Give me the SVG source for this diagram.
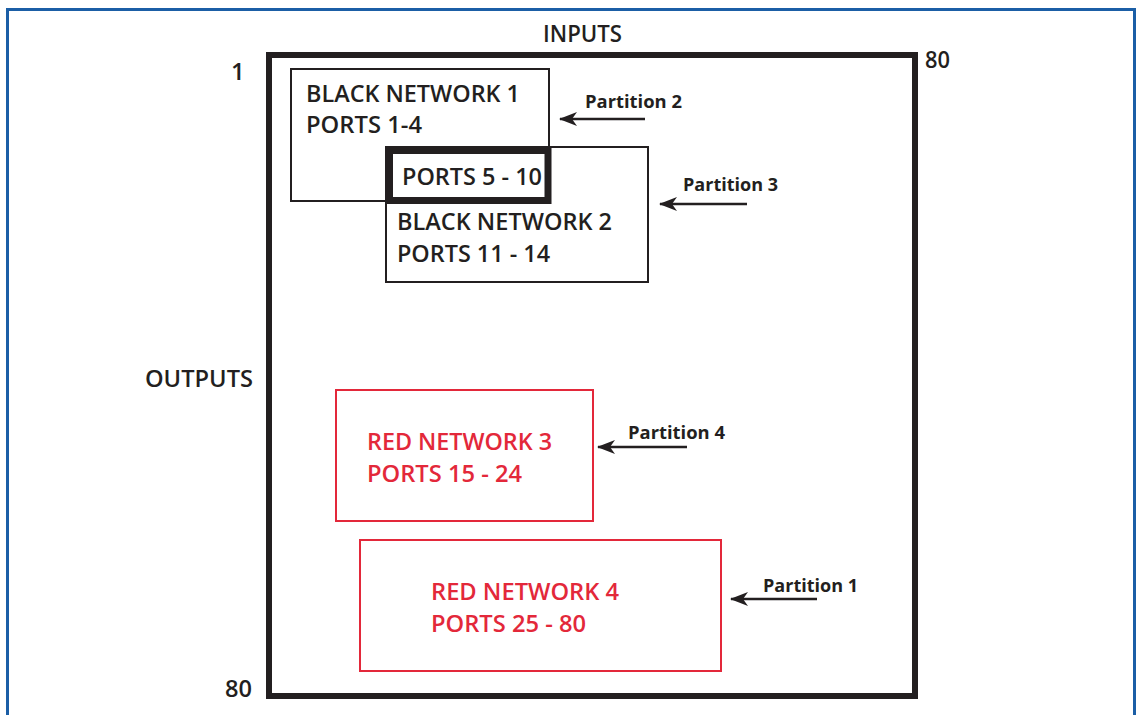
<svg xmlns="http://www.w3.org/2000/svg" width="1143" height="715" viewBox="0 0 1143 715">
<defs>
<style>
.lbl{font-family:"Open Sans","Liberation Sans",sans-serif;font-weight:600;font-size:24px;fill:#231f20}
.red{fill:#e3283a}
.part{font-family:"Open Sans","Liberation Sans",sans-serif;font-weight:700;font-size:18px;fill:#231f20}
.box{fill:none;stroke:#231f20;stroke-width:2}
.rbox{fill:none;stroke:#e3283a;stroke-width:2}
.arr{stroke:#231f20;stroke-width:2.5;fill:none;marker-end:url(#ah)}
</style>
<marker id="ah" viewBox="0 0 18 14" refX="17" refY="7" markerWidth="18" markerHeight="14" markerUnits="userSpaceOnUse" orient="auto">
<path d="M18,7 L0,0 L5,7 L0,14 Z" fill="#231f20"/>
</marker>
</defs>
<rect x="0" y="0" width="1143" height="715" fill="#ffffff"/>
<rect x="7.5" y="9.5" width="1127" height="720" fill="none" stroke="#1b5ea6" stroke-width="3"/>
<g id="frame">
<rect x="269" y="55" width="646" height="641" fill="none" stroke="#231f20" stroke-width="6"/>
<text class="lbl" x="543" y="42" textLength="79" lengthAdjust="spacingAndGlyphs">INPUTS</text>
<text class="lbl" x="145" y="387" textLength="108" lengthAdjust="spacingAndGlyphs">OUTPUTS</text>
<text class="lbl" x="231" y="80">1</text>
<text class="lbl" x="925" y="68" textLength="25" lengthAdjust="spacingAndGlyphs">80</text>
<text class="lbl" x="225" y="697" textLength="27" lengthAdjust="spacingAndGlyphs">80</text>
</g>
<g id="black-network-1">
<rect class="box" x="291" y="69" width="258" height="132"/>
<text class="lbl" x="306" y="102" textLength="214" lengthAdjust="spacingAndGlyphs">BLACK NETWORK 1</text>
<text class="lbl" x="306" y="133" textLength="116" lengthAdjust="spacingAndGlyphs">PORTS 1-4</text>
</g>
<g id="black-network-2">
<rect class="box" x="386" y="147" width="262" height="135"/>
<text class="lbl" x="397" y="230" textLength="215" lengthAdjust="spacingAndGlyphs">BLACK NETWORK 2</text>
<text class="lbl" x="397" y="262" textLength="153" lengthAdjust="spacingAndGlyphs">PORTS 11 - 14</text>
</g>
<g id="shared-ports">
<rect x="389.5" y="150.5" width="158.5" height="50" fill="none" stroke="#231f20" stroke-width="7"/>
<text class="lbl" x="402" y="185" textLength="140" lengthAdjust="spacingAndGlyphs">PORTS 5 - 10</text>
</g>
<g id="red-network-3">
<rect class="rbox" x="336" y="390" width="257" height="131"/>
<text class="lbl red" x="367" y="450" textLength="185" lengthAdjust="spacingAndGlyphs">RED NETWORK 3</text>
<text class="lbl red" x="367" y="482" textLength="155" lengthAdjust="spacingAndGlyphs">PORTS 15 - 24</text>
</g>
<g id="red-network-4">
<rect class="rbox" x="360" y="540" width="361" height="131"/>
<text class="lbl red" x="431" y="600" textLength="188" lengthAdjust="spacingAndGlyphs">RED NETWORK 4</text>
<text class="lbl red" x="431" y="632" textLength="155" lengthAdjust="spacingAndGlyphs">PORTS 25 - 80</text>
</g>
<g id="partition-labels">
<text class="part" x="585" y="108" textLength="97" lengthAdjust="spacingAndGlyphs">Partition 2</text>
<text class="part" x="683" y="191" textLength="95" lengthAdjust="spacingAndGlyphs">Partition 3</text>
<text class="part" x="628" y="439" textLength="97" lengthAdjust="spacingAndGlyphs">Partition 4</text>
<text class="part" x="763" y="592" textLength="95" lengthAdjust="spacingAndGlyphs">Partition 1</text>
</g>
<g id="connectors">
<line class="arr" x1="645" y1="119" x2="560" y2="119"/>
<line class="arr" x1="747" y1="204" x2="660" y2="204"/>
<line class="arr" x1="687" y1="447" x2="598" y2="447"/>
<line class="arr" x1="817" y1="599" x2="731" y2="599"/>
</g>
</svg>
